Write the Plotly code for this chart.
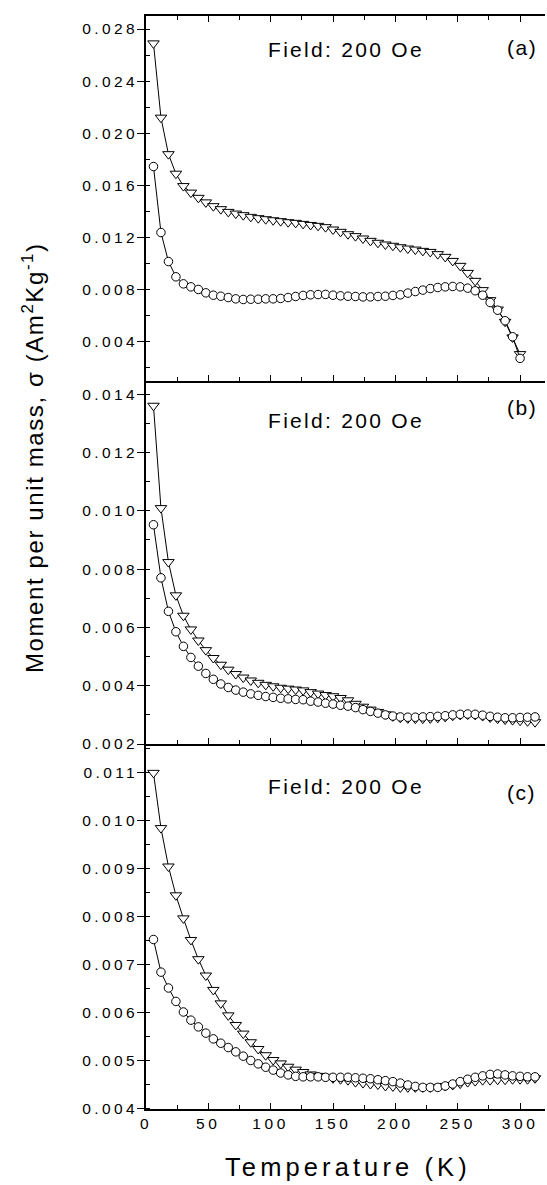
import plotly.graph_objects as go

# Temperature grids (K)
temp_a = [6, 12, 18, 24, 30, 36, 42, 48, 54, 60, 66, 72, 78, 84, 90, 96, 102, 108,
          114, 120, 126, 132, 138, 144, 150, 156, 162, 168, 174, 180, 186, 192, 198,
          204, 210, 216, 222, 228, 234, 240, 246, 252, 258, 264, 270, 276, 282, 288,
          294, 300]
temp_bc = [6, 12, 18, 24, 30, 36, 42, 48, 54, 60, 66, 72, 78, 84, 90, 96, 102, 108,
           114, 120, 126, 132, 138, 144, 150, 156, 162, 168, 174, 180, 186, 192, 198,
           204, 210, 216, 222, 228, 234, 240, 246, 252, 258, 264, 270, 276, 282, 288,
           294, 300, 306, 312]

# Panel (a): moment per unit mass (Am^2/kg)
a_tri = [0.0269, 0.0212, 0.0184, 0.0169, 0.01595, 0.01545, 0.01505, 0.0147, 0.01441,
         0.01418, 0.01397, 0.01384, 0.01372, 0.01359, 0.01349, 0.01341, 0.01333,
         0.01326, 0.01318, 0.01313, 0.01305, 0.01297, 0.0129, 0.0128, 0.01262,
         0.01244, 0.01226, 0.01211, 0.01193, 0.01175, 0.0116, 0.01147, 0.01137,
         0.01126, 0.01116, 0.01108, 0.01098, 0.0109, 0.01073, 0.01052, 0.01021,
         0.00983, 0.00929, 0.00868, 0.00797, 0.0072, 0.00648, 0.00554, 0.00434,
         0.00306]
a_circ = [0.01745, 0.01239, 0.01016, 0.00899, 0.00845, 0.00822, 0.00802, 0.00776,
          0.00758, 0.0075, 0.0074, 0.0073, 0.00725, 0.00727, 0.00727, 0.0073, 0.0073,
          0.00733, 0.0074, 0.00748, 0.00756, 0.00761, 0.00763, 0.00764, 0.00758,
          0.00753, 0.0075, 0.00748, 0.00745, 0.00745, 0.00748, 0.0075, 0.00756,
          0.00761, 0.00774, 0.00786, 0.00797, 0.00809, 0.00817, 0.00822, 0.00825,
          0.00822, 0.00812, 0.00792, 0.00758, 0.00702, 0.00643, 0.00562, 0.00439,
          0.00273]

# Panel (b)
b_tri = [0.0136, 0.01009, 0.00824, 0.0071, 0.0064, 0.00593, 0.00555, 0.00522,
         0.00495, 0.00472, 0.00455, 0.0044, 0.00428, 0.00418, 0.0041, 0.00403,
         0.00398, 0.00393, 0.0039, 0.00387, 0.00384, 0.00378, 0.00373, 0.00368,
         0.00364, 0.00358, 0.0035, 0.00338, 0.00328, 0.00318, 0.0031, 0.00302,
         0.00295, 0.0029, 0.00288, 0.00287, 0.00287, 0.00288, 0.0029, 0.00293,
         0.00297, 0.003, 0.00301, 0.003, 0.00296, 0.00291, 0.00287, 0.00284,
         0.00282, 0.0028, 0.00278, 0.00275]
b_circ = [0.00952, 0.0077, 0.00655, 0.00585, 0.00535, 0.00497, 0.00467, 0.00442,
          0.00422, 0.00406, 0.00394, 0.00385, 0.00378, 0.00372, 0.00367, 0.00363,
          0.0036, 0.00357, 0.00355, 0.00353, 0.00352, 0.00347, 0.00344, 0.0034,
          0.00337, 0.00333, 0.0033, 0.00325, 0.00318, 0.00312, 0.00306, 0.003,
          0.00296, 0.00293, 0.00292, 0.00292, 0.00293, 0.00294, 0.00295, 0.00297,
          0.003, 0.00302, 0.00303, 0.00302, 0.00299, 0.00295, 0.00292, 0.0029,
          0.0029, 0.00291, 0.00292, 0.00293]

# Panel (c)
c_tri = [0.011, 0.00985, 0.00905, 0.00845, 0.00797, 0.00752, 0.00712, 0.00678,
         0.00648, 0.0062, 0.00595, 0.00575, 0.00557, 0.00539, 0.00525, 0.00512,
         0.00502, 0.00495, 0.00488, 0.00482, 0.00477, 0.00472, 0.00469, 0.00467,
         0.00464, 0.00462, 0.0046, 0.00456, 0.00454, 0.00452, 0.00451, 0.00448,
         0.00447, 0.00445, 0.00445, 0.00445, 0.00445, 0.00445, 0.00446, 0.00448,
         0.0045, 0.00453, 0.00456, 0.00458, 0.0046, 0.0046, 0.00461, 0.00461,
         0.00462, 0.00462, 0.00462, 0.00464]
c_circ = [0.00753, 0.00685, 0.00652, 0.00624, 0.00602, 0.00585, 0.00571, 0.00558,
          0.00546, 0.00537, 0.00528, 0.00519, 0.0051, 0.00501, 0.00494, 0.00487,
          0.00481, 0.00475, 0.00471, 0.00468, 0.00467, 0.00467, 0.00467, 0.00466,
          0.00466, 0.00466, 0.00466, 0.00465, 0.00464, 0.00463, 0.00461, 0.00459,
          0.00457, 0.00454, 0.0045, 0.00447, 0.00445, 0.00445, 0.00445, 0.00448,
          0.00452, 0.00457, 0.00462, 0.00466, 0.00469, 0.00472, 0.00473, 0.00471,
          0.00469, 0.00468, 0.00467, 0.00467]

# Tick values
x_ticks = [0, 50, 100, 150, 200, 250, 300]
ya_ticks = [0.004, 0.008, 0.012, 0.016, 0.020, 0.024, 0.028]
yb_ticks = [0.002, 0.004, 0.006, 0.008, 0.010, 0.012, 0.014]
yc_ticks = [0.004, 0.005, 0.006, 0.007, 0.008, 0.009, 0.010, 0.011]

FONT = "Liberation Sans, Arial, Helvetica, sans-serif"


def spaced(text, px):
    return f'<span style="letter-spacing:{px}px">{text}</span>'


fig = go.Figure()

panels = [
    ("x", "y", temp_a, a_tri, a_circ),
    ("x2", "y2", temp_bc, b_tri, b_circ),
    ("x3", "y3", temp_bc, c_tri, c_circ),
]
for xa, ya, t, tri, circ in panels:
    fig.add_trace(go.Scatter(
        x=t, y=tri, xaxis=xa, yaxis=ya, mode="lines+markers",
        line=dict(color="black", width=1),
        marker=dict(symbol="triangle-down", size=10, color="white",
                    line=dict(color="black", width=1)),
        showlegend=False, hoverinfo="skip"))
    fig.add_trace(go.Scatter(
        x=t, y=circ, xaxis=xa, yaxis=ya, mode="lines+markers",
        line=dict(color="black", width=1),
        marker=dict(symbol="circle", size=8.5, color="white",
                    line=dict(color="black", width=1)),
        showlegend=False, hoverinfo="skip"))

xbase = dict(range=[0, 320], showline=True, linecolor="black", linewidth=1.5,
             ticks="inside", ticklen=6, tickwidth=1, tickcolor="black",
             tickmode="array", tickvals=x_ticks,
             ticktext=[spaced(str(v), 3.6) for v in x_ticks],
             minor=dict(dtick=25, tick0=0, ticks="inside", ticklen=4,
                        tickcolor="black", tickwidth=1),
             showgrid=False, zeroline=False,
             tickfont=dict(family=FONT, size=15.5, color="black"))

ybase = dict(showline=True, linecolor="black", linewidth=1.5,
             ticks="outside", ticklen=7, tickwidth=1, tickcolor="black",
             ticklabelstandoff=-4,
             showgrid=False, zeroline=False, tickmode="array",
             tickfont=dict(family=FONT, size=15.5, color="black"))

dom_a = [0.6661, 1.0]
dom_b = [0.3339, 0.6661]
dom_c = [0.0, 0.3339]

fig.update_layout(
    width=547, height=1185,
    margin=dict(l=146, r=2, t=16, b=76),
    paper_bgcolor="white", plot_bgcolor="white",
    xaxis=dict(xbase, anchor="y", showticklabels=False, mirror="ticks"),
    xaxis2=dict(xbase, anchor="y2", matches="x", showticklabels=False),
    xaxis3=dict(xbase, anchor="y3", matches="x", showticklabels=True),
    yaxis=dict(ybase, domain=dom_a, anchor="x", range=[0.001, 0.029],
               tickvals=ya_ticks, ticktext=[spaced(f"{v:.3f}", 3.4) for v in ya_ticks],
               minor=dict(dtick=0.002, tick0=0, ticks="inside", ticklen=4,
                          tickcolor="black")),
    yaxis2=dict(ybase, domain=dom_b, anchor="x2", range=[0.002, 0.01445],
                tickvals=yb_ticks, ticktext=[spaced(f"{v:.3f}", 3.4) for v in yb_ticks],
                minor=dict(dtick=0.001, tick0=0, ticks="inside", ticklen=4,
                           tickcolor="black")),
    yaxis3=dict(ybase, domain=dom_c, anchor="x3", range=[0.004, 0.0116],
                tickvals=yc_ticks, ticktext=[spaced(f"{v:.3f}", 3.4) for v in yc_ticks],
                minor=dict(dtick=0.0005, tick0=0, ticks="inside", ticklen=4,
                           tickcolor="black")),
)

ann_font = dict(family=FONT, size=21, color="black")
labels = [
    (0.9689, 0.9716, "(a)"),
    (0.6295, 0.6414, "(b)"),
    (0.2955, 0.2900, "(c)"),
]
for y_field, y_tag, tag in labels:
    fig.add_annotation(x=0.302, y=y_field, xref="paper", yref="paper",
                       text=spaced("Field: 200 Oe", 2.3), showarrow=False,
                       xanchor="left", yanchor="middle", font=ann_font)
    fig.add_annotation(x=0.8997, y=y_tag, xref="paper", yref="paper",
                       text=spaced(tag, 1.5), showarrow=False,
                       xanchor="left", yanchor="middle", font=ann_font)

fig.add_annotation(x=-0.2832, y=0.5956, xref="paper", yref="paper",
                   text=spaced("Moment per unit mass, σ (Am<sup>2</sup>Kg<sup>-1</sup>)", 1.6),
                   textangle=-90, showarrow=False, xanchor="center", yanchor="middle",
                   font=dict(family=FONT, size=24, color="black"))
fig.add_annotation(x=0.506, y=-0.0535, xref="paper", yref="paper",
                   text=spaced("Temperature (K)", 4.1), showarrow=False,
                   xanchor="center", yanchor="middle",
                   font=dict(family=FONT, size=25.5, color="black"))

fig.write_html("out.html")
